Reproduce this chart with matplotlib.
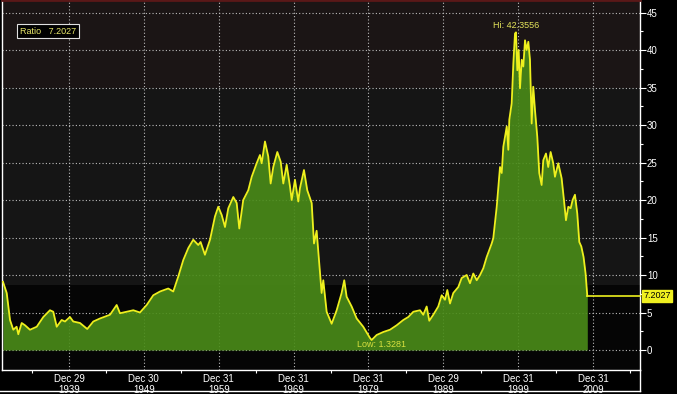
import numpy as np
import matplotlib
matplotlib.use("Agg")
import matplotlib.pyplot as plt
from matplotlib.lines import Line2D

plt.rcParams['font.family'] = ['Liberation Sans', 'DejaVu Sans']

# ratio series (decimal year, ratio)
years = [1931.18, 1931.68, 1932.12, 1932.56, 1933.00, 1933.23, 1933.68, 1934.12, 1934.79,
         1935.69, 1936.57, 1937.46, 1937.90, 1938.36, 1939.02, 1939.47, 1940.13, 1940.57,
         1941.47, 1942.44, 1943.25, 1944.14, 1945.48, 1946.37, 1946.81, 1947.71, 1948.59,
         1949.48, 1950.38, 1951.26, 1952.16, 1953.26, 1953.93, 1954.60, 1955.27, 1955.94,
         1956.60, 1957.27, 1957.58, 1958.16, 1958.84, 1959.50, 1959.94, 1960.40, 1960.84,
         1961.28, 1961.95, 1962.40, 1962.75, 1963.28, 1963.95, 1964.41, 1965.07, 1965.51,
         1965.74, 1966.18, 1966.62, 1966.94, 1967.29, 1967.83, 1968.28, 1968.63, 1969.08,
         1969.52, 1969.75, 1970.19, 1970.63, 1970.86, 1971.39, 1971.83, 1972.42, 1972.73,
         1973.08, 1973.53, 1973.75, 1973.97, 1974.42, 1975.09, 1975.76, 1976.42, 1976.77,
         1977.09, 1977.76, 1978.43, 1979.31, 1980.21, 1980.43, 1981.10, 1981.99, 1982.88,
         1983.78, 1984.66, 1985.33, 1986.00, 1986.89, 1987.33, 1987.78, 1988.13, 1988.67,
         1989.33, 1989.79, 1990.23, 1990.54, 1990.90, 1991.34, 1992.01, 1992.46, 1993.13,
         1993.57, 1994.01, 1994.47, 1994.91, 1995.35, 1995.80, 1996.47, 1996.68, 1997.14,
         1997.58, 1997.81, 1998.02, 1998.48, 1998.69, 1998.82, 1999.14, 1999.36, 1999.58,
         1999.71, 1999.89, 2000.07, 2000.25, 2000.48, 2000.69, 2000.92, 2001.14, 2001.36,
         2001.58, 2001.81, 2002.02, 2002.25, 2002.56, 2002.82, 2003.14, 2003.36, 2003.72,
         2004.02, 2004.34, 2004.69, 2004.92, 2005.36, 2005.81, 2006.12, 2006.39, 2006.70,
         2007.02, 2007.28, 2007.59, 2007.90, 2008.17, 2008.44, 2008.74, 2009.01, 2009.24]
ratio = [9.1, 7.6, 4.0, 2.7, 3.1, 2.1, 3.6, 3.3, 2.7,
         3.1, 4.4, 5.3, 5.1, 3.1, 4.0, 3.8, 4.4, 3.8,
         3.6, 2.8, 3.8, 4.2, 4.7, 6.0, 4.9, 5.1, 5.3,
         5.0, 6.0, 7.3, 7.8, 8.2, 7.8, 9.8, 12.0, 13.6,
         14.7, 14.0, 14.4, 12.7, 14.7, 17.8, 19.1, 18.0, 16.4,
         18.9, 20.4, 19.6, 16.2, 20.0, 21.3, 23.1, 24.9, 26.0,
         24.9, 27.8, 25.8, 22.2, 24.4, 26.4, 25.1, 22.2, 24.7,
         21.8, 20.0, 22.7, 19.8, 21.6, 24.0, 21.3, 19.6, 14.2,
         15.9, 10.2, 7.6, 9.3, 5.1, 3.5, 5.3, 7.6, 9.3,
         7.1, 5.8, 4.2, 3.1, 1.6, 1.3281, 2.0, 2.4, 2.7,
         3.3, 4.0, 4.4, 5.1, 5.3, 4.7, 5.8, 3.9, 4.7,
         5.8, 7.3, 6.7, 8.0, 6.2, 7.6, 8.4, 9.6, 10.0,
         8.9, 10.2, 9.3, 10.0, 10.9, 12.4, 14.2, 14.9, 19.1,
         24.4, 23.6, 27.1, 29.8, 26.7, 30.7, 32.9, 38.2, 42.2,
         42.3556, 37.3, 40.0, 34.9, 38.7, 37.8, 41.3, 40.0, 41.1,
         38.7, 30.2, 35.1, 32.0, 28.4, 23.6, 22.0, 25.3, 26.2,
         24.4, 26.4, 24.9, 23.1, 24.9, 22.9, 20.0, 17.3, 19.1,
         18.9, 20.0, 20.7, 18.2, 14.4, 13.8, 12.4, 10.2, 7.2027]

last_value = 7.2027
hi_value = 42.3556
hi_year = 1999.71
low_value = 1.3281
low_year = 1980.43

tick_pos = [1940.0, 1950.0, 1960.0, 1970.0, 1980.0, 1990.0, 2000.0, 2010.0]
tick_labels = ["Dec 29\n1939", "Dec 30\n1949", "Dec 31\n1959", "Dec 31\n1969",
               "Dec 31\n1979", "Dec 29\n1989", "Dec 31\n1999", "Dec 31\n2009"]
y_ticks = [0, 5, 10, 15, 20, 25, 30, 35, 40, 45]

W, H = 677, 394
fig = plt.figure(figsize=(W / 100, H / 100), dpi=100, facecolor='black')
ax = fig.add_axes([2 / W, 1 - 370 / H, 638 / W, 370 / H])
ax.set_facecolor('#050505')

xmin, xmax = 1931.05, 2016.28
ax.set_xlim(xmin, xmax)
ax.set_ylim(-2.667, 46.67)

# background bands
ax.axhspan(8.67, 46.67, color='#151515', zorder=0, lw=0)
ax.axhspan(35.0, 46.67, color='#1b1515', zorder=0, lw=0)

# grid
for yv in y_ticks:
    ax.axhline(yv, color='#bdbdbd', lw=0.8, ls=(0, (1, 2)), zorder=1)
for xv in tick_pos:
    ax.axvline(xv, color='#bdbdbd', lw=0.8, ls=(0, (1, 2)), zorder=1)

ax.fill_between(years, ratio, 0, color='#4a8c18', alpha=0.9, lw=0, zorder=2)
ax.plot(years, ratio, color='#eef01e', lw=1.3, zorder=3)
ax.plot([years[-1], xmax], [last_value, last_value], color='#eef01e', lw=1.2,
        zorder=3, clip_on=False)

ax.text(hi_year, 43.3, "Hi: " + str(hi_value), color='#e4e45a', fontsize=6.5,
        ha='center', va='center', zorder=4)
ax.text(low_year + 1.3, 0.7, "Low: " + str(low_value), color='#d8e040', fontsize=6.5,
        ha='center', va='center', zorder=4)

# last value flag on the right
ax.text(2016.75, last_value, f"{last_value:.4f}", color='black', fontsize=6.5,
        ha='left', va='center', clip_on=False, zorder=5,
        bbox=dict(boxstyle='square,pad=0.15', fc='#f0f020', ec='#f0f020'))

fig.text(20 / W, 1 - 31 / H, "Ratio   " + f"{last_value:.4f}", color='#e8e86a',
         fontsize=6.5, ha='left', va='center',
         bbox=dict(boxstyle='square,pad=0.3', fc='black', ec='#e0e0e0', lw=0.8))

# axes styling
ax.yaxis.tick_right()
ax.set_yticks(y_ticks)
ax.set_yticklabels([str(v) for v in y_ticks])
ax.set_yticks(np.arange(2.5, 46, 5), minor=True)
ax.tick_params(axis='y', which='major', colors='white', labelsize=7, length=4,
               width=0.8, pad=1)
ax.tick_params(axis='y', which='minor', colors='white', length=2, width=0.8)
ax.set_xticks(tick_pos)
ax.set_xticklabels(tick_labels)
ax.set_xticks(np.arange(1935, 2016, 10), minor=True)
ax.tick_params(axis='x', which='major', colors='white', labelsize=7, length=0, pad=3)
ax.tick_params(axis='x', which='minor', colors='white', length=2, width=0.8)
for lbl in ax.get_xticklabels():
    lbl.set_linespacing(1.05)
for s in ax.spines.values():
    s.set_color('white')
    s.set_linewidth(1.0)
ax.spines['top'].set_color('#5a1818')
ax.spines['top'].set_linewidth(2.0)

# frame around the date strip
fig.add_artist(Line2D([0, 640 / W], [1 - 391 / H, 1 - 391 / H], color='white', lw=1.0))
fig.add_artist(Line2D([640 / W, 640 / W], [1 - 391 / H, 1 - 370 / H], color='white', lw=1.0))

fig.savefig('out.png', dpi=100, facecolor='black')
